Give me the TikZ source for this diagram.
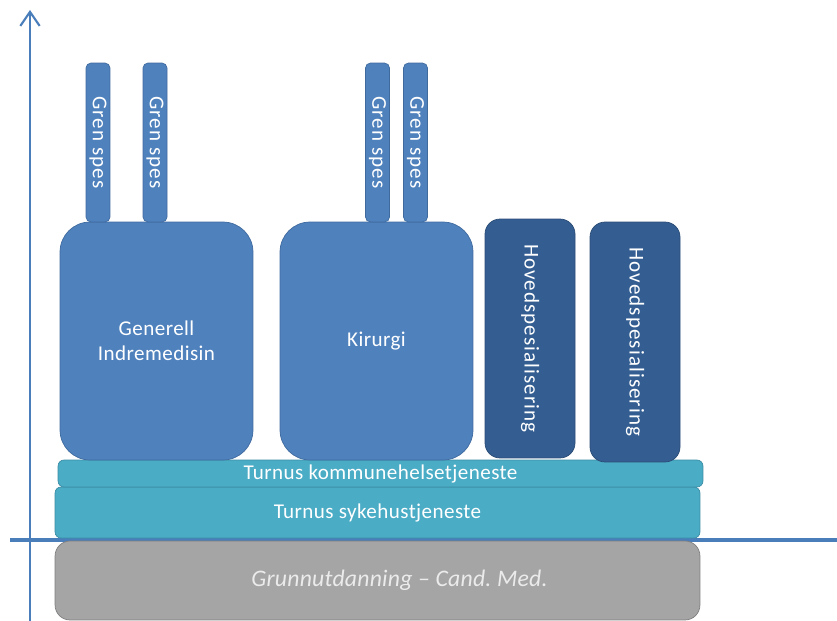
\documentclass[tikz,border=0pt]{standalone}
\usepackage{fontspec}
\setmainfont{Carlito}
\usetikzlibrary{arrows.meta}
\definecolor{medblue}{HTML}{4F81BD}
\definecolor{medblueline}{HTML}{3F6A9E}
\definecolor{darkblue}{HTML}{345E91}
\definecolor{darkblueline}{HTML}{2A4C76}
\definecolor{teal}{HTML}{4BACC6}
\definecolor{tealline}{HTML}{3A8CA3}
\definecolor{greybox}{HTML}{A5A5A5}
\definecolor{greyline}{HTML}{7F7F7F}
\definecolor{axisblue}{HTML}{4A7EBB}
\newcommand{\boxfont}{\fontsize{12}{14.5}\selectfont\addfontfeature{LetterSpace=2}}
\newcommand{\sidefont}{\fontsize{12}{14}\selectfont\addfontfeature{LetterSpace=5}}
\tikzset{
  block/.style={draw=medblueline,fill=medblue,text=white,rounded corners=0.6cm,
    align=center,inner sep=0pt,font=\boxfont},
  hoved/.style={draw=darkblueline,fill=darkblue,text=white,rounded corners=0.3cm,
    minimum width=1.8cm,inner sep=0pt},
  gren/.style={draw=medblueline,fill=medblue,text=white,rounded corners=0.1cm,
    minimum width=0.48cm,minimum height=3.18cm,inner sep=0pt},
  turnus/.style={draw=tealline,fill=teal,text=white,rounded corners=0.12cm,
    minimum width=12.9cm,inner sep=0pt,font=\boxfont},
  sidetext/.style={rotate=-90,text=white,inner sep=0pt,font=\sidefont},
}
\begin{document}
\begin{tikzpicture}[x=0.02cm,y=-0.02cm]
	\useasboundingbox (0,0) rectangle (837,621);
	% Axis
	\coordinate (ybot) at (30,621);
	\coordinate (ytop) at (30,10);
	\coordinate (xleft) at (10,540);
	\coordinate (xright) at (837,540);
	\draw[axisblue, line width=1.2pt, -{Straight Barb[length=8pt,width=11pt,line width=1.2pt]}] (ybot) -- (ytop);
	\draw[axisblue, line width=2.3pt] (xleft) -- (xright);
	
	% Base
	\node[draw=greyline,fill=greybox,rounded corners=0.3cm,
	  minimum width=12.9cm,minimum height=1.58cm,inner sep=0pt] (grunn) at (377.5,580.5) {};
	\node[text=white!92!black,font=\fontsize{13.5}{15}\selectfont\itshape\addfontfeature{LetterSpace=1}]
	  (grunntekst) at ([xshift=0.44cm]grunn.center) {Grunnutdanning -- Cand.\ Med.};
	\node[turnus, minimum height=1.02cm] (syke) at (377.5,512.5) {Turnus sykehustjeneste};
	\node[turnus, minimum height=0.54cm] (kommune) at (380.5,473.5) {Turnus kommunehelsetjeneste};
	
	% Spesialiteter
	\node[block, minimum width=3.86cm, minimum height=4.76cm] (indremed) at (156.5,341) {Generell\\Indremedisin};
	\node[block, minimum width=3.86cm, minimum height=4.76cm] (kirurgi) at (376.5,341) {Kirurgi};
	\node[hoved, minimum height=4.78cm] (hoved1) at (530,338.5) {};
	\node[hoved, minimum height=4.8cm] (hoved2) at (635,342) {};
	\node[sidetext] (hoved1tekst) at (hoved1) {Hovedspesialisering};
	\node[sidetext] (hoved2tekst) at (hoved2) {Hovedspesialisering};
	
	% Grenspesialiteter
	\foreach \x/\n in {98/g1,155/g2,377.5/g3,415.5/g4}
	{
		\node[gren] (\n) at (\x,142.5) {};
		\node[sidetext] (\n tekst) at (\n) {Gren spes};
	}
\end{tikzpicture}
\end{document}
